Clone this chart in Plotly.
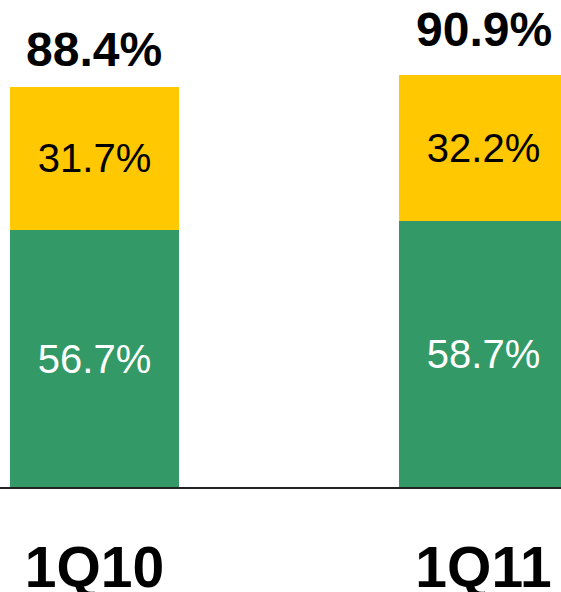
import plotly.graph_objects as go

categories = ["1Q10", "1Q11"]
green_values = [56.7, 58.7]
yellow_values = [31.7, 32.2]
total_values = [88.4, 90.9]

GREEN = "#339966"
YELLOW = "#FFC800"
FONT = "Liberation Sans, Arial, sans-serif"

x_pos = list(range(len(categories)))
bar_width = 0.4344
total_label_shift = [37, 46]

fig = go.Figure()
fig.add_trace(go.Bar(
    x=x_pos, y=green_values, width=bar_width,
    marker=dict(color=GREEN, line=dict(width=0)),
    text=[f"{v:.1f}%" for v in green_values],
    textposition="inside", insidetextanchor="middle", textangle=0,
    textfont=dict(family=FONT, size=40, color="white"),
    hoverinfo="skip",
))
fig.add_trace(go.Bar(
    x=x_pos, y=yellow_values, width=bar_width,
    marker=dict(color=YELLOW, line=dict(width=0)),
    text=[f"{v:.1f}%" for v in yellow_values],
    textposition="inside", insidetextanchor="middle", textangle=0,
    textfont=dict(family=FONT, size=40, color="black"),
    hoverinfo="skip",
))

for i, t in enumerate(total_values):
    fig.add_annotation(
        x=x_pos[i], y=t, xref="x", yref="y",
        text=f"<b>{t:.1f}%</b>", showarrow=False,
        yanchor="middle", yshift=total_label_shift[i],
        font=dict(family=FONT, size=48, color="black"),
    )

fig.update_layout(
    barmode="stack",
    width=561, height=592,
    margin=dict(l=0, r=0, t=0, b=105),
    paper_bgcolor="white", plot_bgcolor="white",
    showlegend=False,
    uniformtext=dict(mode=False),
    xaxis=dict(
        range=[-0.2429, 1.1992],
        tickmode="array", tickvals=x_pos,
        ticktext=[f"<b>{c}</b>" for c in categories],
        tickfont=dict(family=FONT, size=57, color="black"),
        showline=True, linecolor="#222222", linewidth=2,
        showgrid=False, zeroline=False, ticks="",
        ticklabelstandoff=30,
        automargin=False,
        fixedrange=True,
    ),
    yaxis=dict(
        range=[0, 107.5], visible=False, showgrid=False, zeroline=False,
        automargin=False,
        fixedrange=True,
    ),
)

fig.write_html(
    "out.html",
    config={"displayModeBar": False},
    post_script=(
        "document.body.style.margin='0';"
        "document.body.style.padding='0';"
        "document.documentElement.style.overflow='hidden';"
        "document.body.style.overflow='hidden';"
    ),
)
